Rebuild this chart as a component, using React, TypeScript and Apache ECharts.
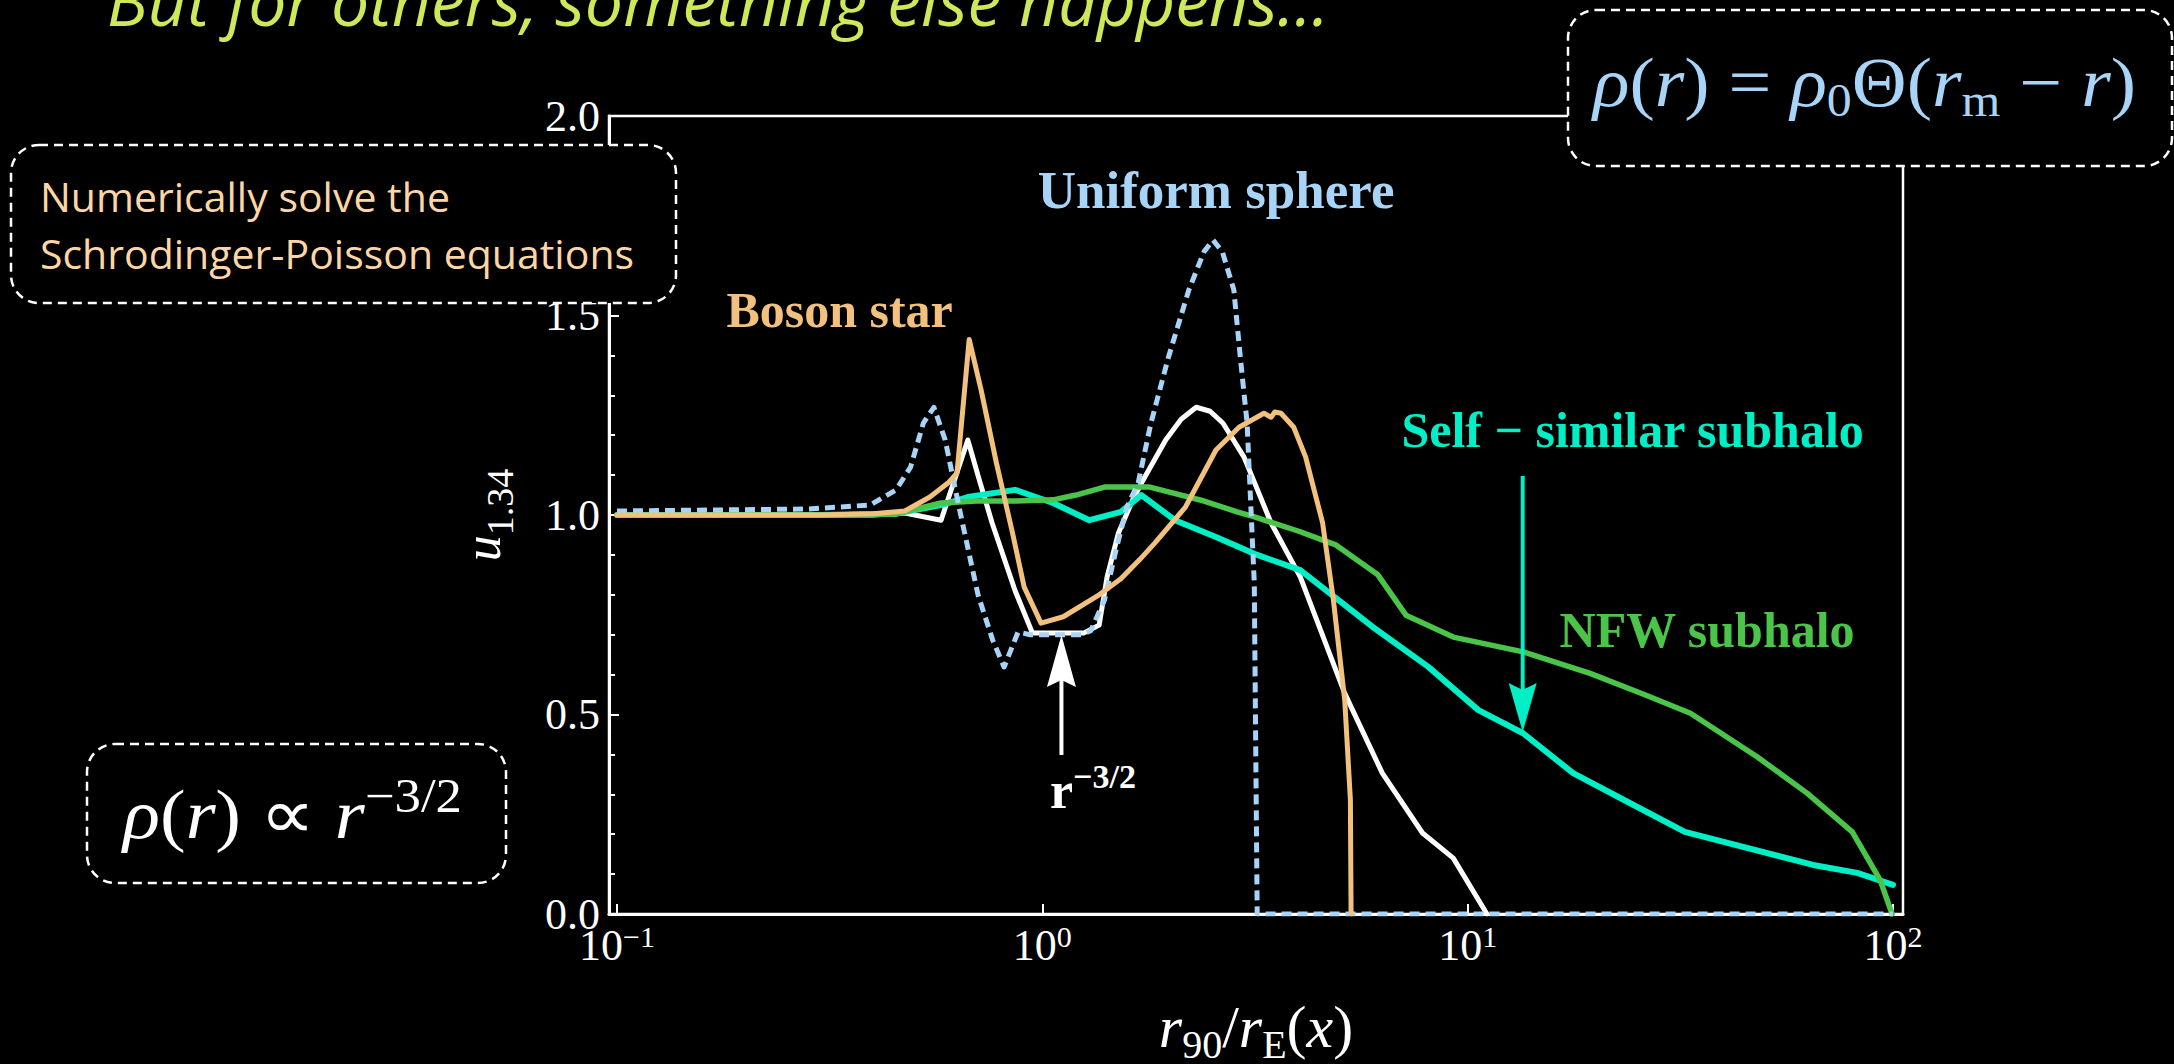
import React, { useEffect, useRef } from "react";
import * as echarts from "echarts";

const W = 2174;
const H = 1064;

// ρ ∝ r^{-3/2} profile (white)
const xPowerLaw = [0.1, 0.2, 0.3, 0.4, 0.475, 0.578, 0.668, 0.71, 0.762, 0.863, 0.948, 1.1, 1.25, 1.36, 1.42, 1.51, 1.63, 1.71, 1.95, 2.12, 2.3, 2.48, 2.66, 2.98, 3.45, 4.04, 5.14, 6.3, 7.83, 9.25, 11.1];
const uPowerLaw = [1.0, 1.0, 1.0, 1.0, 1.005, 0.987, 1.188, 1.09, 0.98, 0.81, 0.704, 0.704, 0.704, 0.724, 0.845, 0.955, 1.037, 1.08, 1.188, 1.24, 1.27, 1.26, 1.23, 1.145, 0.98, 0.845, 0.553, 0.353, 0.203, 0.14, 0.0];

// Uniform sphere (light blue, dashed)
const xUniform = [0.1, 0.28, 0.394, 0.453, 0.49, 0.525, 0.556, 0.591, 0.637, 0.68, 0.706, 0.764, 0.813, 0.877, 0.936, 1.1, 1.236, 1.3, 1.4, 1.49, 1.58, 1.68, 1.8, 1.98, 2.21, 2.4, 2.52, 2.65, 2.82, 2.92, 3.03, 3.15, 3.2, 100];
const uUniform = [1.01, 1.015, 1.025, 1.063, 1.12, 1.23, 1.27, 1.188, 1.02, 0.88, 0.8, 0.687, 0.619, 0.707, 0.7, 0.7, 0.7, 0.71, 0.787, 0.912, 1.02, 1.08, 1.23, 1.396, 1.564, 1.66, 1.689, 1.66, 1.564, 1.396, 1.23, 0.83, 0.0, 0.0];

// Boson star (orange)
const xBoson = [0.1, 0.3, 0.4, 0.475, 0.544, 0.6, 0.63, 0.673, 0.718, 0.78, 0.851, 0.906, 0.993, 1.12, 1.36, 1.53, 1.69, 1.84, 2.17, 2.56, 2.9, 3.32, 3.45, 3.52, 3.64, 3.9, 4.16, 4.56, 4.83, 5.14, 5.3, 5.32];
const uBoson = [1.0, 1.0, 1.003, 1.01, 1.045, 1.08, 1.105, 1.44, 1.313, 1.13, 0.955, 0.82, 0.729, 0.745, 0.8, 0.84, 0.887, 0.93, 1.02, 1.163, 1.22, 1.255, 1.245, 1.258, 1.255, 1.22, 1.145, 0.98, 0.79, 0.536, 0.286, 0.0];

// Self-similar subhalo (teal)
const xSelfSimilar = [0.1, 0.3, 0.45, 0.578, 0.668, 0.863, 1.06, 1.29, 1.53, 1.71, 2.05, 2.56, 3.2, 4.04, 5.97, 8.07, 10.6, 13.5, 17.7, 23.2, 32.4, 64.9, 82.4, 100];
const uSelfSimilar = [1.0, 1.0, 1.003, 1.025, 1.045, 1.063, 1.03, 0.987, 1.008, 1.05, 0.987, 0.945, 0.9, 0.862, 0.72, 0.62, 0.511, 0.453, 0.353, 0.287, 0.206, 0.123, 0.103, 0.073];

// NFW subhalo (green)
const xNFW = [0.1, 0.3, 0.45, 0.578, 0.7, 0.86, 1.06, 1.2, 1.4, 1.79, 1.98, 2.4, 2.87, 3.14, 4.04, 4.56, 4.9, 6.15, 7.16, 9.25, 13.5, 19.4, 26, 33.4, 47.9, 62.8, 80.2, 93.3, 99.5];
const uNFW = [1.0, 1.0, 1.002, 1.03, 1.035, 1.035, 1.038, 1.05, 1.07, 1.07, 1.058, 1.035, 1.008, 0.996, 0.958, 0.937, 0.925, 0.85, 0.749, 0.694, 0.657, 0.603, 0.55, 0.503, 0.394, 0.303, 0.206, 0.085, 0.0];

// decades labelled on the radius axis
const xTickExponents = [-1, 0, 1, 2];

const C_WHITE = "#ffffff";
const C_BLUE = "#a8d4f7";
const C_ORANGE = "#f2c17e";
const C_TEAL = "#00efc6";
const C_GREEN = "#4bc44a";
const C_TITLE = "#cde95a";
const C_PEACH = "#fdd6a5";

const SERIF = '"Liberation Serif", "Times New Roman", serif';
const SANS = '"Open Sans", "Noto Sans", sans-serif';

// distance from the em-box centre to the alphabetic baseline
const SERIF_MID = 0.3375;
const SANS_MID = 0.388;

const toLog = (xs: number[], us: number[]) => xs.map((x, i) => [Math.log10(x), us[i]]);

function lineSeries(name: string, xs: number[], us: number[], color: string, width: number, dash?: number[]) {
  return {
    name,
    type: "line",
    data: toLog(xs, us),
    showSymbol: false,
    symbol: "none",
    silent: true,
    lineStyle: {
      color,
      width,
      type: dash ? dash : "solid",
      cap: dash ? "butt" : "round",
      join: "round",
    },
  };
}

export default function App() {
  const ref = useRef<HTMLDivElement>(null);

  useEffect(() => {
    const chart = echarts.init(ref.current!, null, { renderer: "svg", width: W, height: H });

    chart.setOption({
      animation: false,
      backgroundColor: "#000000",
      grid: {
        left: 609,
        top: 116,
        width: 1294,
        height: 798,
        show: true,
        borderColor: C_WHITE,
        borderWidth: 2.5,
        backgroundColor: "transparent",
      },
      xAxis: {
        type: "value",
        min: -1.0188,
        max: 2.0235,
        axisLine: { show: true, onZero: false, lineStyle: { color: C_WHITE, width: 3 } },
        axisTick: {
          show: true,
          inside: true,
          length: 10,
          customValues: xTickExponents,
          lineStyle: { color: C_WHITE, width: 2 },
        },
        splitLine: { show: false },
        axisLabel: {
          customValues: xTickExponents,
          margin: 9,
          formatter: (v: number) => `{b|10}{s|${v < 0 ? "\u2212" + -v : v}}`,
          rich: {
            b: { fontFamily: SERIF, fontSize: 44, lineHeight: 44, color: C_WHITE, verticalAlign: "bottom" },
            s: { fontFamily: SERIF, fontSize: 30, lineHeight: 30, color: C_WHITE, verticalAlign: "bottom", padding: [0, 0, 16, 0] },
          },
        },
      },
      yAxis: {
        type: "value",
        min: 0,
        max: 2,
        interval: 0.5,
        axisLine: { show: true, onZero: false, lineStyle: { color: C_WHITE, width: 3 } },
        axisTick: { show: true, inside: true, length: 10, lineStyle: { color: C_WHITE, width: 2 } },
        minorTick: { show: true, splitNumber: 5, length: 6, lineStyle: { color: C_WHITE, width: 2 } },
        splitLine: { show: false },
        axisLabel: {
          margin: 9,
          color: C_WHITE,
          fontFamily: SERIF,
          fontSize: 44,
          formatter: (v: number) => v.toFixed(1),
        },
      },
      series: [
        lineSeries("r^-3/2", xPowerLaw, uPowerLaw, C_WHITE, 5),
        lineSeries("Self-similar subhalo", xSelfSimilar, uSelfSimilar, C_TEAL, 6),
        lineSeries("NFW subhalo", xNFW, uNFW, C_GREEN, 5.5),
        lineSeries("Uniform sphere", xUniform, uUniform, C_BLUE, 5, [10, 6]),
        lineSeries("Boson star", xBoson, uBoson, C_ORANGE, 5),
      ],
    });

    const px = (x: number, u: number) => chart.convertToPixel({ gridIndex: 0 }, [Math.log10(x), u]) as number[];

    const boldLabel = (text: string, x: number, u: number, color: string, size = 50) => {
      const p = px(x, u);
      return {
        type: "text",
        x: p[0],
        y: p[1] - SERIF_MID * size,
        z: 50,
        style: {
          text,
          fill: color,
          fontFamily: SERIF,
          fontWeight: "bold",
          fontSize: size,
          align: "center",
          verticalAlign: "middle",
        },
      };
    };

    const arrow = (x: number, uTail: number, uTip: number, color: string, width: number, headLen: number, headW: number) => {
      const tail = px(x, uTail);
      const tip = px(x, uTip);
      const dir = tip[1] > tail[1] ? 1 : -1;
      const back = tip[1] - dir * headLen;
      const notch = tip[1] - dir * (headLen - 7);
      return [
        {
          type: "line",
          z: 50,
          shape: { x1: tail[0], y1: tail[1], x2: tip[0], y2: notch },
          style: { stroke: color, lineWidth: width },
        },
        {
          type: "polygon",
          z: 51,
          shape: {
            points: [
              [tip[0], tip[1]],
              [tip[0] - headW / 2, back],
              [tip[0], notch],
              [tip[0] + headW / 2, back],
            ],
          },
          style: { fill: color },
        },
      ];
    };

    const box = (x: number, y: number, w: number, h: number) => ({
      type: "rect",
      z: 100,
      shape: { x, y, width: w, height: h, r: 28 },
      style: { fill: "#000000", stroke: C_WHITE, lineWidth: 2.5, lineDash: [9, 6] },
    });

    const whiteTip = arrow(1.109, 0.3985, 0.6992, C_WHITE, 4, 52, 29);
    const tealTip = arrow(13.47, 1.0977, 0.4561, C_TEAL, 4, 49, 28);
    const rLabel = px(1.0426, 0.2657);

    chart.setOption({
      graphic: [
        // headline
        {
          type: "text",
          x: 107,
          y: 26 - SANS_MID * 68,
          z: 100,
          style: {
            text: "But for others, something else happens…",
            fill: C_TITLE,
            fontFamily: SANS,
            fontStyle: "italic",
            fontSize: 68,
            align: "left",
            verticalAlign: "middle",
          },
        },
        // curve labels
        boldLabel("Uniform sphere", 2.561, 1.7694, C_BLUE, 53),
        boldLabel("Boson star", 0.3337, 1.4712, C_ORANGE),
        boldLabel("Self \u2212 similar subhalo", 24.42, 1.1704, C_TEAL),
        boldLabel("NFW subhalo", 36.55, 0.6692, C_GREEN),
        ...whiteTip,
        ...tealTip,
        {
          type: "text",
          x: rLabel[0],
          y: rLabel[1] + 8.45,
          z: 50,
          style: {
            text: "{b|r}{p|\u22123/2}",
            align: "left",
            verticalAlign: "bottom",
            rich: {
              b: { fontFamily: SERIF, fontWeight: "bold", fontSize: 52, lineHeight: 52, fill: C_WHITE, verticalAlign: "bottom" },
              p: { fontFamily: SERIF, fontWeight: "bold", fontSize: 34, lineHeight: 34, fill: C_WHITE, verticalAlign: "bottom", padding: [0, 0, 23, 0] },
            },
          },
        },
        // axis names
        {
          type: "text",
          x: 518.5,
          y: 515,
          rotation: Math.PI / 2,
          z: 50,
          style: {
            text: "{i|u}{s|1.34}",
            align: "center",
            verticalAlign: "bottom",
            rich: {
              i: { fontFamily: SERIF, fontStyle: "italic", fontSize: 52, lineHeight: 52, fill: C_WHITE, verticalAlign: "bottom", padding: [0, 0, 10, 0] },
              s: { fontFamily: SERIF, fontSize: 38, lineHeight: 38, fill: C_WHITE, verticalAlign: "bottom" },
            },
          },
        },
        {
          type: "text",
          x: 1256,
          y: 1064,
          z: 50,
          style: {
            text: "{i|r}{s|90}{u|/}{i|r}{s|E}{u|(}{i|x}{u|)}",
            align: "center",
            verticalAlign: "bottom",
            rich: {
              i: { fontFamily: SERIF, fontStyle: "italic", fontSize: 60, lineHeight: 60, fill: C_WHITE, verticalAlign: "bottom", padding: [0, 0, 7, 0] },
              u: { fontFamily: SERIF, fontSize: 60, lineHeight: 60, fill: C_WHITE, verticalAlign: "bottom", padding: [0, 0, 7, 0] },
              s: { fontFamily: SERIF, fontSize: 40, lineHeight: 40, fill: C_WHITE, verticalAlign: "bottom" },
            },
          },
        },
        // note boxes
        box(11, 145, 665, 158),
        {
          type: "text",
          x: 40,
          y: 212 - SANS_MID * 41,
          z: 101,
          style: { text: "Numerically solve the", fill: C_PEACH, fontFamily: SANS, fontSize: 41, align: "left", verticalAlign: "middle" },
        },
        {
          type: "text",
          x: 40,
          y: 269 - SANS_MID * 41,
          z: 101,
          style: { text: "Schrodinger-Poisson equations", fill: C_PEACH, fontFamily: SANS, fontSize: 41, align: "left", verticalAlign: "middle" },
        },
        box(1568, 10, 604, 156),
        {
          type: "text",
          x: 1864.5,
          y: 126.4,
          z: 101,
          scaleX: 1.085,
          style: {
            text: "{i|ρ}{u|(}{i|r}{u|) = }{i|ρ}{s|0}{u|Θ(}{i|r}{s|m}{u| \u2212 }{i|r}{u|)}",
            align: "center",
            verticalAlign: "bottom",
            rich: {
              i: { fontFamily: SERIF, fontStyle: "italic", fontSize: 70, lineHeight: 70, fill: C_BLUE, verticalAlign: "bottom", padding: [0, 0, 9, 0] },
              u: { fontFamily: SERIF, fontSize: 70, lineHeight: 70, fill: C_BLUE, verticalAlign: "bottom", padding: [0, 0, 9, 0] },
              s: { fontFamily: SERIF, fontSize: 46, lineHeight: 46, fill: C_BLUE, verticalAlign: "bottom", padding: [0, 0, 3, 0] },
            },
          },
        },
        box(87, 744, 419, 139),
        {
          type: "text",
          x: 292.5,
          y: 849.4,
          z: 101,
          scaleX: 1.1,
          style: {
            text: "{i|ρ}{u|(}{i|r}{u|) ∝ }{i|r}{p|\u22123/2}",
            align: "center",
            verticalAlign: "bottom",
            rich: {
              i: { fontFamily: SERIF, fontStyle: "italic", fontSize: 70, lineHeight: 70, fill: C_WHITE, verticalAlign: "bottom" },
              u: { fontFamily: SERIF, fontSize: 70, lineHeight: 70, fill: C_WHITE, verticalAlign: "bottom" },
              p: { fontFamily: SERIF, fontSize: 48, lineHeight: 48, fill: C_WHITE, verticalAlign: "bottom", padding: [0, 0, 30, 0] },
            },
          },
        },
      ],
    });

    return () => chart.dispose();
  }, []);

  return (
    <div
      ref={ref}
      style={{ position: "fixed", left: 0, top: 0, width: W, height: H, background: "#000000" }}
    />
  );
}
